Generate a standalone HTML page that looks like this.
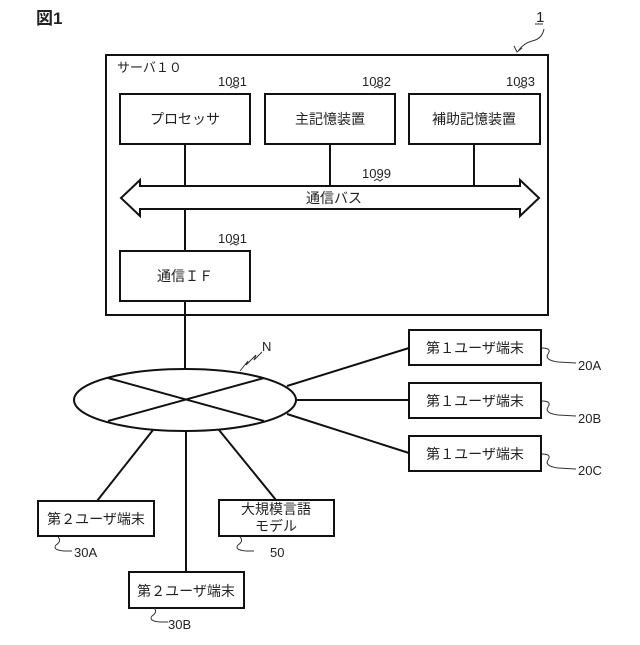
<!DOCTYPE html>
<html><head><meta charset="utf-8"><style>
body{margin:0;background:#fff}
svg text{font-family:"Liberation Sans","Noto Sans CJK JP",sans-serif;fill:#222}
</style></head><body>
<svg width="640" height="640" viewBox="0 0 640 640" xmlns="http://www.w3.org/2000/svg">
<g fill="none" stroke="#111" stroke-width="2">
<rect x="106" y="55" width="442" height="260"/>
<rect x="120" y="94" width="130" height="50"/>
<rect x="265" y="94" width="130" height="50"/>
<rect x="409" y="94" width="131" height="50"/>
<line x1="185" y1="144" x2="185" y2="186"/>
<line x1="330" y1="144" x2="330" y2="186"/>
<line x1="474" y1="144" x2="474" y2="186"/>
<path d="M121 198 L140 180 L140 186 L520 186 L520 180 L539 198 L520 216 L520 209 L140 209 L140 216 Z" fill="#fff"/>
<line x1="185" y1="209" x2="185" y2="251"/>
<rect x="120" y="251" width="130" height="50"/>
<line x1="185" y1="301" x2="185" y2="370"/>
<ellipse cx="185" cy="400" rx="111" ry="31"/>
<line x1="108" y1="378" x2="264" y2="421"/>
<line x1="264" y1="378" x2="108" y2="421"/>
<rect x="409" y="330" width="132" height="35"/>
<rect x="409" y="383" width="132" height="35"/>
<rect x="409" y="436" width="132" height="35"/>
<line x1="287" y1="386" x2="409" y2="348"/>
<line x1="297" y1="400" x2="409" y2="400"/>
<line x1="287" y1="414" x2="409" y2="453"/>
<rect x="38" y="501" width="116" height="35"/>
<rect x="219" y="500" width="115" height="36"/>
<rect x="129" y="572" width="115" height="36"/>
<line x1="153" y1="430" x2="97" y2="501"/>
<line x1="219" y1="430" x2="276" y2="500"/>
<line x1="186" y1="431" x2="186" y2="572"/>
</g>
<g fill="none" stroke="#333" stroke-width="1">
<path d="M542 348 q10 0 6 6 q-4 6 10 8 l18 1"/>
<path d="M542 401 q10 0 6 6 q-4 6 10 8 l18 1"/>
<path d="M542 454 q10 0 6 6 q-4 6 10 8 l18 1"/>
<path d="M58 537 q4 4 -2 8 q-4 5 8 6 l8 0"/>
<path d="M240 537 q4 4 -2 8 q-4 5 8 6 l8 0"/>
<path d="M154 608 q4 4 -2 8 q-4 5 8 6 l8 0"/>
<path d="M262 352 l-8 8 l2 -5 l-10 10 l2 -4 l-8 10"/>
<path d="M544 29 q-2 10 -12 12 q-8 2 -14 10 M514 46 l3 6 l5 -4"/>
<line x1="535" y1="24" x2="543" y2="24"/>
<path d="M230 88 l3 -2 l3 2 l3 -2 M374 88 l3 -2 l3 2 l3 -2 M518 88 l3 -2 l3 2 l3 -2 M230 245 l3 -2 l3 2 l3 -2 M374 181 l3 -2 l3 2 l3 -2"/>
</g>
<text x="36" y="24" font-size="17" font-weight="bold">図1</text>
<text x="536" y="22" font-size="15">1</text>
<text x="117" y="72" font-size="13">サーバ１０</text>
<text x="218" y="86" font-size="13">1081</text>
<text x="362" y="86" font-size="13">1082</text>
<text x="506" y="86" font-size="13">1083</text>
<text x="185" y="124" font-size="14" text-anchor="middle">プロセッサ</text>
<text x="330" y="124" font-size="14" text-anchor="middle">主記憶装置</text>
<text x="474" y="124" font-size="14" text-anchor="middle">補助記憶装置</text>
<text x="362" y="178" font-size="13">1099</text>
<text x="334" y="203" font-size="14" text-anchor="middle">通信バス</text>
<text x="218" y="243" font-size="13">1091</text>
<text x="185" y="281" font-size="14" text-anchor="middle">通信ＩＦ</text>
<text x="262" y="351" font-size="13">N</text>
<text x="475" y="353" font-size="14" text-anchor="middle">第１ユーザ端末</text>
<text x="475" y="406" font-size="14" text-anchor="middle">第１ユーザ端末</text>
<text x="475" y="459" font-size="14" text-anchor="middle">第１ユーザ端末</text>
<text x="578" y="370" font-size="13">20A</text>
<text x="578" y="423" font-size="13">20B</text>
<text x="578" y="475" font-size="13">20C</text>
<text x="96" y="524" font-size="14" text-anchor="middle">第２ユーザ端末</text>
<text x="276" y="514" font-size="14" text-anchor="middle">大規模言語</text>
<text x="276" y="531" font-size="14" text-anchor="middle">モデル</text>
<text x="186" y="596" font-size="14" text-anchor="middle">第２ユーザ端末</text>
<text x="74" y="557" font-size="13">30A</text>
<text x="270" y="557" font-size="13">50</text>
<text x="168" y="629" font-size="13">30B</text>
</svg>
</body></html>
